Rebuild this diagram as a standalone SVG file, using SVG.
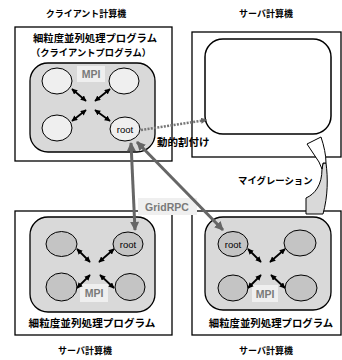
<svg xmlns="http://www.w3.org/2000/svg" width="342" height="360" viewBox="0 0 342 360">
<style>
.jp{font-family:"Noto Sans CJK JP","Noto Sans CJK SC",sans-serif;font-weight:bold;fill:#000}
.t{font-size:9px}
.pg{font-size:10.3px}
.box{fill:#fff;stroke:#000;stroke-width:1.3}
.inner{fill:#d9d9d9;stroke:#000;stroke-width:1.3}
.cc{fill:#efefef;stroke:#000;stroke-width:1}
.sc{fill:#c4c4c4;stroke:#000;stroke-width:1}
.rt{font-family:"Liberation Sans",Arial,sans-serif;font-size:9.5px;fill:#000;text-anchor:middle}
.lbl{fill:#efefef}
.lt{font-family:"Liberation Sans",Arial,sans-serif;font-weight:bold;font-size:10.5px;fill:#7a7a7a;text-anchor:middle}
.ba{stroke:#000;stroke-width:1.8;fill:none;marker-start:url(#ah);marker-end:url(#ah)}
.ga{stroke:#666;stroke-width:3;fill:none;marker-start:url(#gh);marker-end:url(#gh)}
</style>
<defs>
<marker id="ah" viewBox="0 0 10 10" refX="9" refY="5" markerWidth="3.4" markerHeight="3.2" orient="auto-start-reverse" markerUnits="strokeWidth"><path d="M0,0 L10,5 L0,10 Z" fill="#000"/></marker>
<marker id="gh" viewBox="0 0 10 10" refX="9" refY="5" markerWidth="3.2" markerHeight="3" orient="auto-start-reverse" markerUnits="strokeWidth"><path d="M0,0 L10,5 L0,10 Z" fill="#666"/></marker>
<marker id="dh" viewBox="0 0 10 10" refX="8" refY="5" markerWidth="2.5" markerHeight="2.5" orient="auto" markerUnits="strokeWidth"><path d="M0,0 L10,5 L0,10 Z" fill="#666"/></marker>
</defs>

<text class="jp t" x="86" y="17" text-anchor="middle">クライアント計算機</text>
<text class="jp t" x="266" y="17" text-anchor="middle">サーバ計算機</text>
<text class="jp t" x="85" y="354" text-anchor="middle">サーバ計算機</text>
<text class="jp t" x="266" y="354" text-anchor="middle">サーバ計算機</text>

<g id="client">
<rect class="box" x="15" y="27" width="157" height="134"/>
<text class="jp" x="33" y="41.5" style="font-size:9.8px" textLength="124" lengthAdjust="spacingAndGlyphs">細粒度並列処理プログラム</text>
<text class="jp" x="31" y="55.5" style="font-size:9.4px" textLength="120" lengthAdjust="spacingAndGlyphs">（クライアントプログラム）</text>
<rect class="inner" x="30" y="63" width="125" height="89" rx="18"/>
<rect class="lbl" x="77" y="66" width="28" height="16"/>
<text class="lt" x="91" y="78">MPI</text>
<ellipse class="cc" cx="57" cy="81" rx="15" ry="13"/>
<ellipse class="cc" cx="124" cy="81" rx="15" ry="13"/>
<ellipse class="cc" cx="57" cy="128" rx="15" ry="13"/>
<ellipse class="cc" cx="125" cy="129" rx="15" ry="12"/>
<text class="rt" x="125" y="132.5">root</text>
<line class="ba" x1="72" y1="89" x2="86" y2="101"/>
<line class="ba" x1="110" y1="89" x2="95" y2="101"/>
<line class="ba" x1="72" y1="121" x2="86" y2="110"/>
<line class="ba" x1="110" y1="121" x2="95" y2="110"/>
</g>

<g id="server-top">
<rect class="box" x="192" y="32" width="149" height="125"/>
<rect x="205" y="39" width="126" height="95" rx="18" fill="#fff" stroke="#000" stroke-width="1.5"/>
</g>

<g id="server-bl">
<rect class="box" x="15" y="211" width="157" height="124"/>
<rect class="inner" x="30" y="217" width="125" height="95" rx="18"/>
<ellipse class="sc" cx="61.5" cy="244" rx="15.5" ry="12.5"/>
<ellipse class="sc" cx="128" cy="244" rx="15" ry="12"/>
<text class="rt" x="128" y="247.5">root</text>
<ellipse class="sc" cx="61.5" cy="287" rx="15.5" ry="14"/>
<ellipse class="sc" cx="130" cy="287" rx="15" ry="13.5"/>
<rect class="lbl" x="80" y="284" width="28" height="18"/>
<text class="lt" x="94" y="297">MPI</text>
<line class="ba" x1="77" y1="249" x2="90" y2="262"/>
<line class="ba" x1="114" y1="249" x2="99" y2="262"/>
<line class="ba" x1="77" y1="288" x2="90" y2="275"/>
<line class="ba" x1="114" y1="288" x2="100" y2="275"/>
<text class="jp pg" x="92" y="327" text-anchor="middle" style="font-size:10.6px">細粒度並列処理プログラム</text>
</g>

<g id="server-br">
<rect class="box" x="192" y="211" width="149" height="124"/>
<rect class="inner" x="205" y="217" width="126" height="93" rx="18"/>
<ellipse class="sc" cx="233" cy="244" rx="15" ry="12.5"/>
<text class="rt" x="233" y="247.5">root</text>
<ellipse class="sc" cx="300" cy="243" rx="16" ry="13"/>
<ellipse class="sc" cx="233" cy="288" rx="15" ry="13"/>
<ellipse class="sc" cx="301" cy="288" rx="16" ry="13"/>
<rect class="lbl" x="252" y="285" width="26" height="17"/>
<text class="lt" x="265" y="298">MPI</text>
<line class="ba" x1="248" y1="249" x2="261" y2="262"/>
<line class="ba" x1="285" y1="249" x2="270" y2="262"/>
<line class="ba" x1="248" y1="288" x2="261" y2="275"/>
<line class="ba" x1="285" y1="288" x2="271" y2="275"/>
<text class="jp pg" x="271" y="327" text-anchor="middle" style="font-size:10.4px">細粒度並列処理プログラム</text>
</g>

<g id="connectors">
<line x1="141" y1="130" x2="206" y2="120" stroke="#777" stroke-width="2.5" stroke-dasharray="2,1.3" marker-end="url(#dh)"/>
<rect class="lbl" x="138" y="198" width="59" height="17"/>
<text class="lt" x="167" y="211">GridRPC</text>
<line class="ga" x1="131" y1="143" x2="135" y2="230"/>
<line class="ga" x1="137" y1="142" x2="223" y2="230"/>
<text class="jp" x="157" y="146" style="font-size:10.5px">動的割付け</text>
<text class="jp" x="238" y="184" style="font-size:9.4px">マイグレーション</text>
<path d="M322,169 L323,163 L326,163 C328,178 328,196 323,214 L306,214 L306,198 C315,194 322,185 322,169 Z" fill="#d9d9d9" stroke="#000" stroke-width="1"/>
<path d="M307,144 L321,137 C324,146 326,155 326,163 L323,163 L322,169 L319,162 Z" fill="#fff" stroke="#000" stroke-width="1"/>
</g>
</svg>
